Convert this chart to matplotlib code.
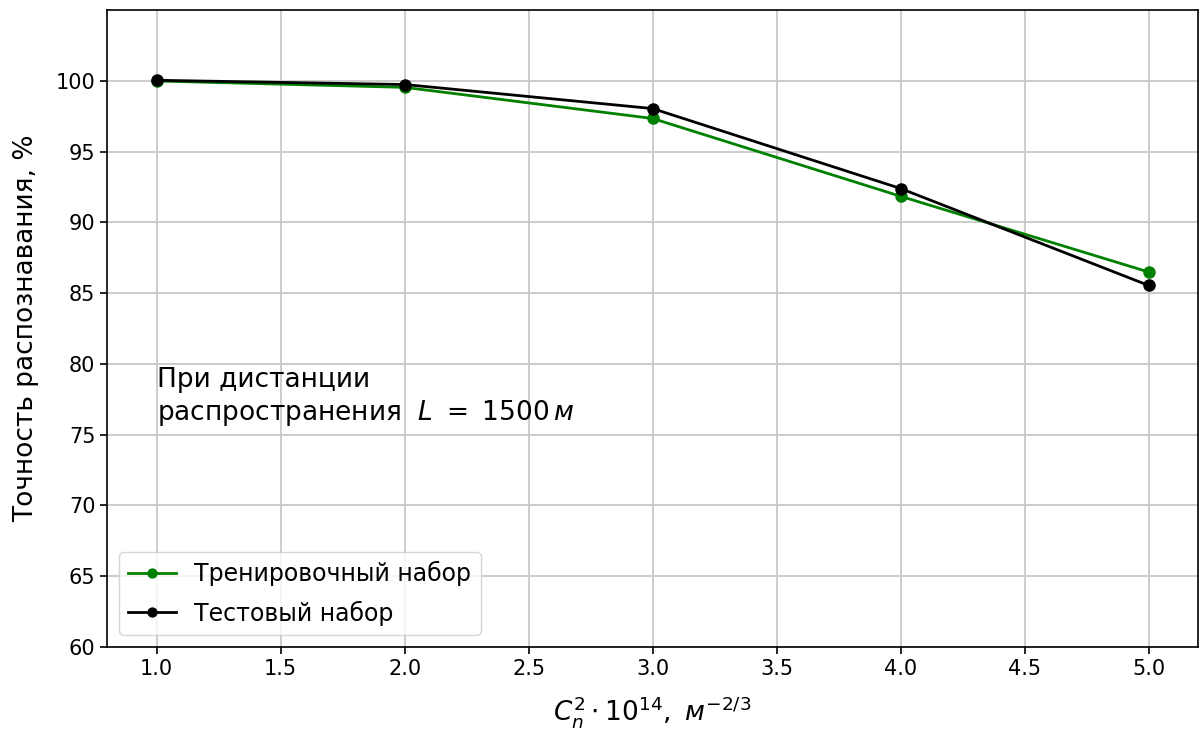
import matplotlib
matplotlib.use("Agg")
import matplotlib.pyplot as plt

# Data
cn2 = [1.0, 2.0, 3.0, 4.0, 5.0]
train_acc = [100.0, 99.55, 97.35, 91.85, 86.5]
test_acc = [100.05, 99.75, 98.05, 92.4, 85.55]

fig = plt.figure(figsize=(12.03, 7.31), dpi=100)
ax = fig.add_axes([0.089, 0.115, 0.907, 0.871])

ax.plot(cn2, train_acc, color='green', marker='o', markersize=8, linewidth=2,
        label='Тренировочный набор')
ax.plot(cn2, test_acc, color='black', marker='o', markersize=8, linewidth=2,
        label='Тестовый набор')

ax.set_ylim(60, 105)
ax.set_yticks(range(60, 101, 5))
ax.grid(True, color='#c8c8c8', linewidth=1.3)
ax.tick_params(labelsize=15, length=5, width=1.2)
for s in ax.spines.values():
    s.set_linewidth(1.2)

ax.set_xlabel(r'$C_n^2 \cdot 10^{14},\ м^{-2/3}$', fontsize=19, labelpad=11)
ax.set_ylabel('Точность распознавания, %', fontsize=19, labelpad=12)

ax.text(1.0, 75.5, 'При дистанции\nраспространения  $L\\ =\\ 1500\\,м$', fontsize=19,
        va='bottom', ha='left')

ax.legend(loc='lower left', fontsize=17, markerscale=0.8, labelspacing=0.6)

fig.savefig('out.png', dpi=100)
